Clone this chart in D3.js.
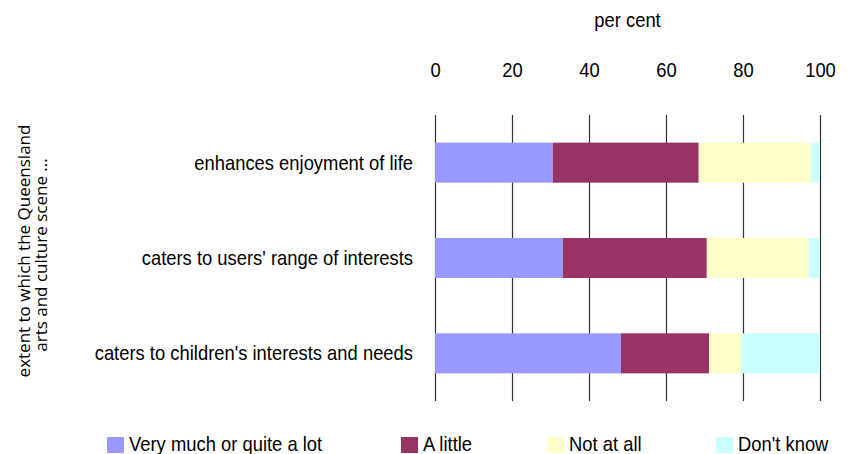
<!DOCTYPE html>
<html>
<head>
<meta charset="utf-8">
<script src="https://cdn.jsdelivr.net/npm/d3@7"></script>
<style>
  html, body { margin: 0; padding: 0; background: #fff; }
  svg { display: block; }
  .lbl { font-family: "Liberation Sans Narrow", "Arial Narrow", "Liberation Sans", sans-serif; fill: #000; }
  .ttl { font-family: "Open Sans", "Noto Sans", sans-serif; fill: #000; }
</style>
</head>
<body>
<svg id="chart" width="851" height="454"></svg>
<script>
// ---- data ----
const categories = [
  "enhances enjoyment of life",
  "caters to users' range of interests",
  "caters to children's interests and needs"
];
const seriesNames = ["Very much or quite a lot", "A little", "Not at all", "Don't know"];
const veryMuch  = [30.6, 33.2, 48.3];
const aLittle   = [37.9, 37.4, 22.9];
const notAtAll  = [29.2, 26.5, 8.3];
const dontKnow  = [2.3, 2.9, 20.5];
const tickValues = [0, 20, 40, 60, 80, 100];
const colors = ["#9999FF", "#993366", "#FFFFCC", "#CCFFFF"];
const xTitle = "per cent";
const yTitleLines = ["extent to which the Queensland", "arts and culture scene ..."];

// ---- layout ----
const SX = 0.92; // horizontal condensing of the narrow label face
const svg = d3.select("#chart");
const x = d3.scaleLinear().domain([0, 100]).range([435, 820]);
const y = d3.scaleBand().domain(categories).range([115, 401]).paddingInner(0.58).paddingOuter(0.29);

const rows = categories.map((c, i) => ({
  cat: c,
  "Very much or quite a lot": veryMuch[i],
  "A little": aLittle[i],
  "Not at all": notAtAll[i],
  "Don't know": dontKnow[i]
}));
const stacked = d3.stack().keys(seriesNames)(rows);

// gridlines
svg.append("g").selectAll("line").data(tickValues).join("line")
  .attr("x1", d => Math.round(x(d)) + 0.5).attr("x2", d => Math.round(x(d)) + 0.5)
  .attr("y1", 115).attr("y2", 401)
  .attr("stroke", "#333").attr("stroke-width", 1.2);

// bars
svg.append("g").selectAll("g").data(stacked).join("g")
  .attr("fill", (d, i) => colors[i])
  .selectAll("rect").data(d => d).join("rect")
  .attr("x", d => x(d[0]))
  .attr("width", d => x(d[1]) - x(d[0]))
  .attr("y", d => y(d.data.cat))
  .attr("height", y.bandwidth());

// top axis
const axis = d3.axisTop(x).tickValues(tickValues).tickSize(0).tickPadding(0).tickFormat(d3.format("d"));
const ag = svg.append("g").attr("transform", "translate(0,77)").call(axis);
ag.select(".domain").remove();
ag.selectAll("text").attr("class", "lbl").attr("font-size", 20).attr("dy", 0).attr("fill", "#000")
  .attr("transform", `scale(${SX},1)`);

svg.append("text").attr("class", "lbl").attr("font-size", 20)
  .attr("transform", `translate(${(x(0) + x(100)) / 2},27) scale(${SX},1)`)
  .attr("text-anchor", "middle").text(xTitle);

// category labels
svg.append("g").selectAll("text").data(categories).join("text")
  .attr("class", "lbl").attr("font-size", 20)
  .attr("transform", d => `translate(413,${y(d) + y.bandwidth() / 2}) scale(${SX},1)`)
  .attr("dy", "0.35em").attr("text-anchor", "end").text(d => d);

// y title
const yt = svg.append("text").attr("class", "ttl").attr("font-size", 17)
  .attr("transform", "translate(0,251) rotate(-90)").attr("text-anchor", "middle");
yTitleLines.forEach((t, i) => {
  yt.append("tspan").attr("x", i === 0 ? 0 : -4).attr("y", i === 0 ? 30 : 47).text(t);
});

// legend
const legendX = [107, 401, 547, 716];
const lg = svg.append("g").selectAll("g").data(seriesNames).join("g")
  .attr("transform", (d, i) => `translate(${legendX[i]},0)`);
lg.append("rect").attr("x", 0).attr("y", 437).attr("width", 17).attr("height", 16)
  .attr("fill", (d, i) => colors[i]);
lg.append("text").attr("class", "lbl").attr("font-size", 20)
  .attr("transform", `translate(22,451) scale(${SX},1)`).text(d => d);
</script>
</body>
</html>
